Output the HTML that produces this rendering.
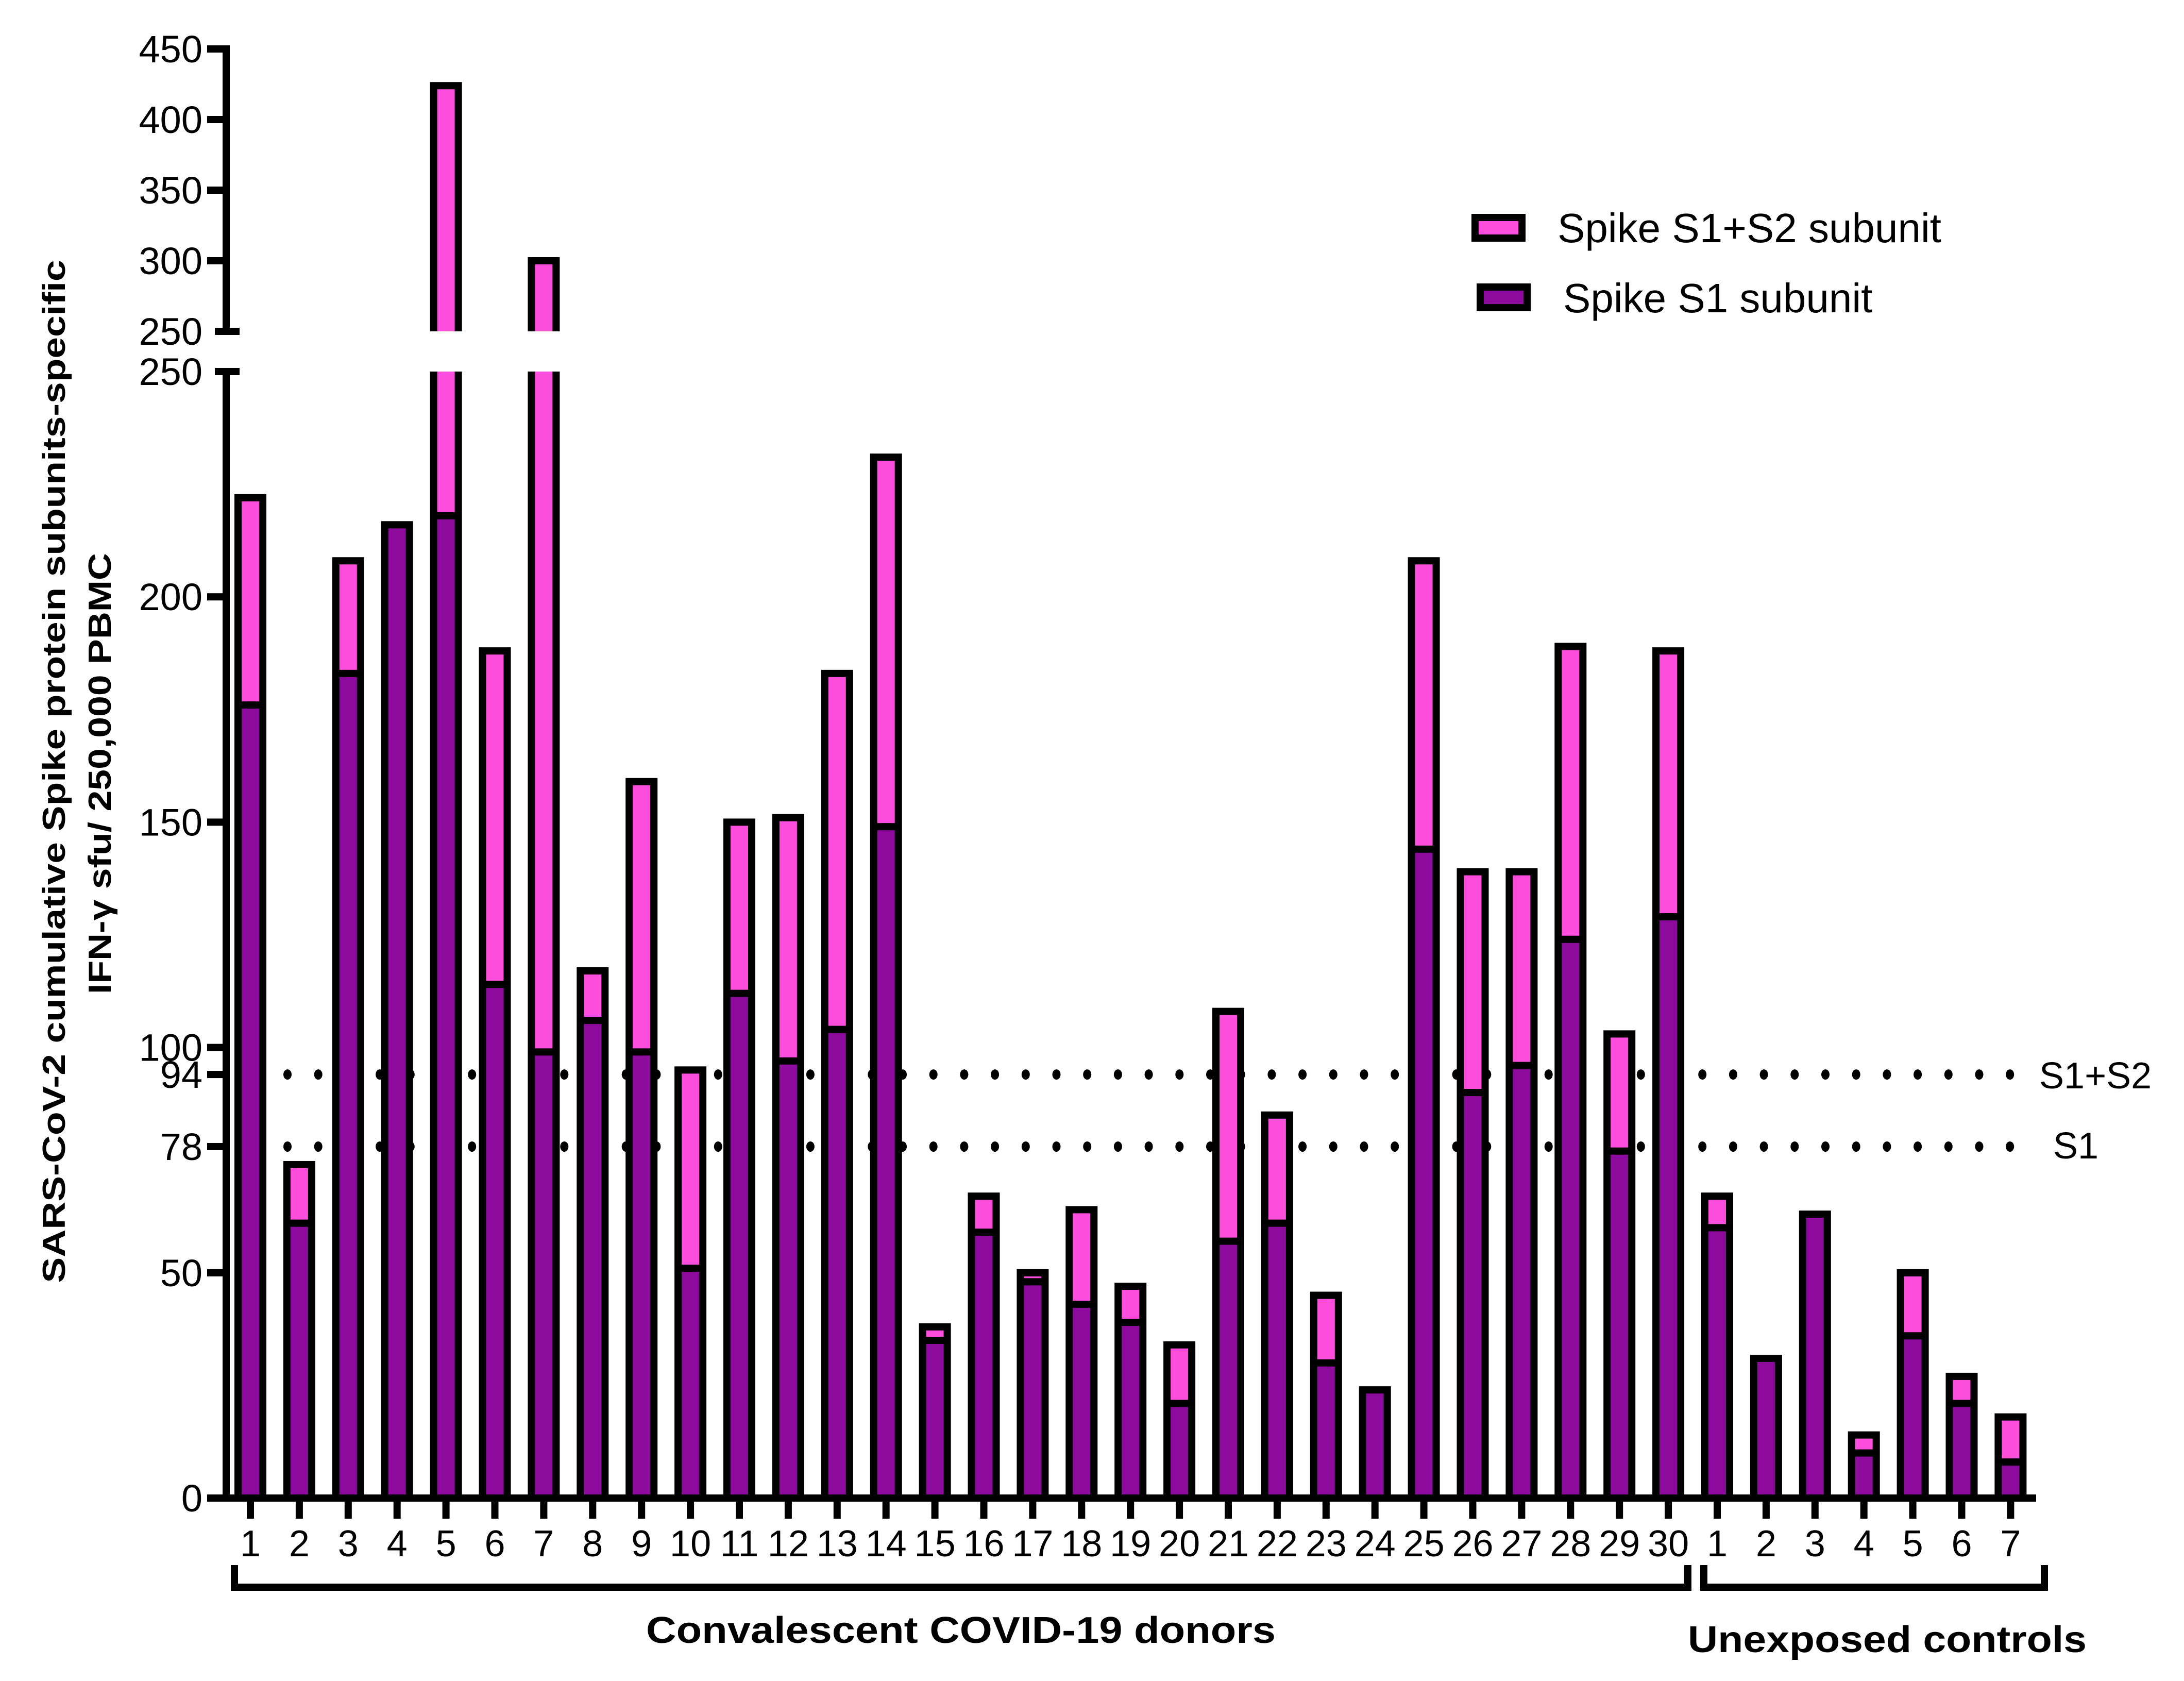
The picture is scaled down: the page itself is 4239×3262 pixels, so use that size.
<!DOCTYPE html>
<html><head><meta charset="utf-8"><style>html,body{margin:0;padding:0;background:#fff}svg{display:block}</style></head>
<body>
<svg id="chart" width="4239" height="3262" viewBox="0 0 4239 3262" xmlns="http://www.w3.org/2000/svg" font-family="Liberation Sans, Arial, sans-serif">
<g id="dots"></g>
<g id="bars"></g>
<g id="axes"></g>
<g id="legend">
  <rect x="2856" y="415" width="105" height="54" fill="#000"/>
  <rect x="2870" y="429" width="77" height="26" fill="#fd4ddc"/>
  <text x="3023" y="470" font-size="80">Spike S1+S2 subunit</text>
  <rect x="2866" y="550" width="105" height="54" fill="#000"/>
  <rect x="2880" y="564" width="77" height="26" fill="#8c0a9c"/>
  <text x="3034" y="606" font-size="80">Spike S1 subunit</text>
</g>
<g font-weight="bold" font-size="62">
  <text transform="translate(126,1497) rotate(-90)" text-anchor="middle" textLength="1985" lengthAdjust="spacingAndGlyphs">SARS-CoV-2 cumulative Spike protein subunits-specific</text>
  <text transform="translate(215,1501) rotate(-90)" text-anchor="middle" textLength="856" lengthAdjust="spacingAndGlyphs">IFN-γ sfu/ 250,000 PBMC</text>
</g>
<g fill="#000">
  <rect x="448" y="3037" width="14" height="50"/><rect x="448" y="3073" width="2835" height="14"/><rect x="3269" y="3037" width="14" height="50"/>
  <rect x="3300" y="3037" width="14" height="50"/><rect x="3300" y="3073" width="675" height="14"/><rect x="3961" y="3037" width="14" height="50"/>
  <text x="1865" y="3188" font-size="72" font-weight="bold" text-anchor="middle" textLength="1222" lengthAdjust="spacingAndGlyphs">Convalescent COVID-19 donors</text>
  <text x="3663" y="3206" font-size="72" font-weight="bold" text-anchor="middle" textLength="774" lengthAdjust="spacingAndGlyphs">Unexposed controls</text>
</g>
<text x="3958" y="2112" font-size="72">S1+S2</text>
<text x="3985" y="2248" font-size="72">S1</text>
<script>
const categories = ["1","2","3","4","5","6","7","8","9","10","11","12","13","14","15","16","17","18","19","20","21","22","23","24","25","26","27","28","29","30","1","2","3","4","5","6","7"];
const totalValues = [222,74,208,216,424,188,300,117,159,95,150,151,183,231,38,67,50,64,47,34,108,85,45,24,208,139,139,189,103,188,67,31,63,14,50,27,18];
const s1Values = [176,61,183,216,218,114,99,106,99,51,112,97,104,149,35,59,48,43,39,21,57,61,30,24,144,90,96,124,77,129,60,31,63,10,36,21,8];
const lowerTicks = [0,50,100,150,200,250];
const upperTicks = [250,300,350,400,450];
const thresholds = [94,78];
const thresholdLabels = ["94","78"];

const NS = "http://www.w3.org/2000/svg";
function el(tag, attrs, parent){const e=document.createElementNS(NS,tag);for(const k in attrs)e.setAttribute(k,attrs[k]);parent.appendChild(e);return e;}
// axes functions
function yLow(v){return 2907 - v*8.744;}
function yUp(v){return 643 - (v-250)*2.74;}
function y(v){return v<=250 ? yLow(v) : yUp(v);}
function xC(i){return 486 + i*94.9;}
const PINK="#fd4ddc", PURPLE="#8c0a9c";
const bars=document.getElementById('bars'), axes=document.getElementById('axes'), dots=document.getElementById('dots');
const BASE=2900, HW=31, IW=17, S=14;

// threshold dotted lines
thresholds.forEach((t)=>{
  for(let x=558; x<=3945; x+=59.7){
    const d=el('ellipse',{cx:x.toFixed(1),cy:yLow(t),rx:8,ry:10,fill:'#000'},dots);
    
    
  }
});

categories.forEach((c,i)=>{
  const cx=xC(i), tot=totalValues[i], s1=s1Values[i];
  const g=el('g',{},bars);
  
  
  if(tot<=250){
    const yt=yLow(tot), ys=yLow(s1);
    el('rect',{x:cx-HW,y:yt-7,width:2*HW,height:BASE-yt+7,fill:'#000'},g);
    if(tot>s1){
      const p=el('rect',{x:cx-IW,y:yt+7,width:2*IW,height:Math.max(0,ys-7-(yt+7)),fill:PINK},g);
      
      
      const q=el('rect',{x:cx-IW,y:ys+7,width:2*IW,height:BASE-ys-7,fill:PURPLE},g);
      
      
    } else {
      const q=el('rect',{x:cx-IW,y:yt+7,width:2*IW,height:BASE-yt-7,fill:PURPLE},g);
      
      
    }
  } else {
    const ytop=yUp(tot), ys=yLow(s1), brk=yLow(250);
    el('rect',{x:cx-HW,y:ytop-7,width:2*HW,height:yUp(250)-ytop+7,fill:'#000'},g);
    const pu=el('rect',{x:cx-IW,y:ytop+7,width:2*IW,height:yUp(250)-ytop-7,fill:PINK},g);
    
    
    el('rect',{x:cx-HW,y:brk,width:2*HW,height:BASE-brk,fill:'#000'},g);
    const pl=el('rect',{x:cx-IW,y:brk,width:2*IW,height:Math.max(0,ys-7-brk),fill:PINK},g);
    
    
    const q=el('rect',{x:cx-IW,y:ys+7,width:2*IW,height:BASE-ys-7,fill:PURPLE},g);
    
    
  }
  // x tick + label
  el('rect',{x:cx-7,y:2907,width:14,height:40,fill:'#000'},axes);
  const t=el('text',{x:cx,y:3020,'font-size':72,'text-anchor':'middle'},axes);
  t.textContent=c;
  
  
});

// x axis
const xa=el('rect',{x:408,y:2900,width:3952-408,height:14,fill:'#000'},axes);


// lower y axis
const ya=el('rect',{x:432,y:yLow(250)-7,width:14,height:2914-yLow(250)+7,fill:'#000'},axes);


const yb=el('rect',{x:432,y:yUp(450)-7,width:14,height:yUp(250)-yUp(450)+14,fill:'#000'},axes);


function ytick(yy,label,wide){
  if(wide) el('rect',{x:417,y:yy-7,width:48,height:14,fill:'#000'},axes);
  else el('rect',{x:402,y:yy-7,width:37,height:14,fill:'#000'},axes);
  const t=el('text',{x:393,y:yy+26,'font-size':74,'text-anchor':'end'},axes);
  t.textContent=label;
  
  
}
lowerTicks.forEach(v=>ytick(yLow(v),String(v),v===250));
upperTicks.forEach(v=>ytick(yUp(v),String(v),v===250));
thresholds.forEach((v,k)=>ytick(yLow(v),thresholdLabels[k],false));
</script>
</svg>
</body></html>
